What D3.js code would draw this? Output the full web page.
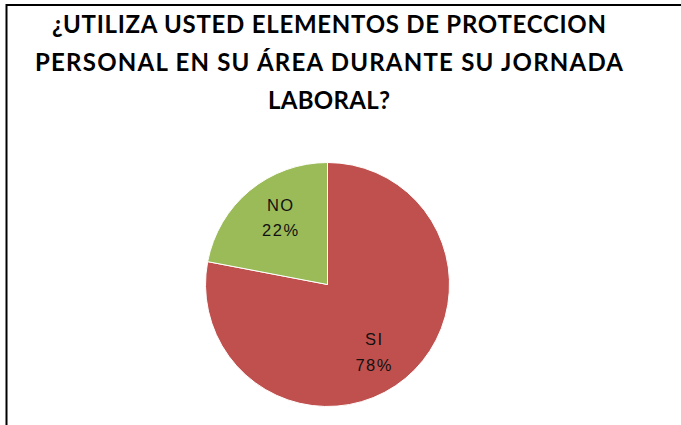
<!DOCTYPE html>
<html>
<head>
<meta charset="utf-8">
<script src="https://cdn.jsdelivr.net/npm/d3@7"></script>
<style>
  body { margin: 0; background: #fff; }
</style>
</head>
<body>
<svg width="681" height="425"></svg>
<script>
var categories = ["SI", "NO"];
var values = [78, 22];
var colors = ["#C0504D", "#9BBB59"];
var titleLines = [
  "¿UTILIZA USTED ELEMENTOS DE PROTECCION",
  "PERSONAL EN SU ÁREA DURANTE SU JORNADA",
  "LABORAL?"
];
var titleWidths = [554, 588, 122];

var svg = d3.select("svg");

// frame (only top and left edges visible)
svg.append("path")
  .attr("d", "M6.5,425 V5 H681")
  .attr("fill", "none")
  .attr("stroke", "#000")
  .attr("stroke-width", 2);

// title
svg.append("g").selectAll("text")
  .data(titleLines)
  .join("text")
  .attr("x", 329)
  .attr("y", (d, i) => 32.5 + i * 38)
  .attr("text-anchor", "middle")
  .attr("font-family", "Lato, 'Open Sans', sans-serif")
  .attr("font-weight", "bold")
  .attr("font-size", 24)
  .attr("fill", "#000")
  .attr("textLength", (d, i) => titleWidths[i])
  .attr("lengthAdjust", "spacing")
  .text(d => d);

var cx = 327.5, cy = 284.5, r = 122;
var data = categories.map((c, i) => ({ cat: c, value: values[i], color: colors[i] }));
var total = d3.sum(values);

var pie = d3.pie().value(d => d.value).sort(null);
var arc = d3.arc().innerRadius(0).outerRadius(r);

var g = svg.append("g").attr("transform", "translate(" + cx + "," + cy + ")");

g.selectAll("path")
  .data(pie(data))
  .join("path")
  .attr("d", arc)
  .attr("fill", d => d.data.color)
  .attr("stroke", "#fff")
  .attr("stroke-width", 1);

// labels sit a bit inside, pulled toward the vertical split
function labelPos(d) {
  var mid = (d.startAngle + d.endAngle) / 2;
  var toward = mid < Math.PI ? Math.PI : 2 * Math.PI;
  var a = mid + (toward - mid) * 0.12;
  var lr = r * 0.67;
  return [Math.sin(a) * lr, -Math.cos(a) * lr];
}

var labels = g.selectAll("text")
  .data(pie(data))
  .join("text")
  .attr("transform", d => "translate(" + labelPos(d) + ")")
  .attr("text-anchor", "middle")
  .attr("font-family", "'Liberation Sans', Arial, sans-serif")
  .attr("font-size", 16.5)
  .attr("letter-spacing", 1.5)
  .attr("fill", "#111");

labels.append("tspan")
  .attr("x", 0)
  .attr("y", -6.5)
  .text(d => d.data.cat);
labels.append("tspan")
  .attr("x", 0)
  .attr("y", 19)
  .text(d => Math.round(d.data.value / total * 100) + "%");
</script>
</body>
</html>
